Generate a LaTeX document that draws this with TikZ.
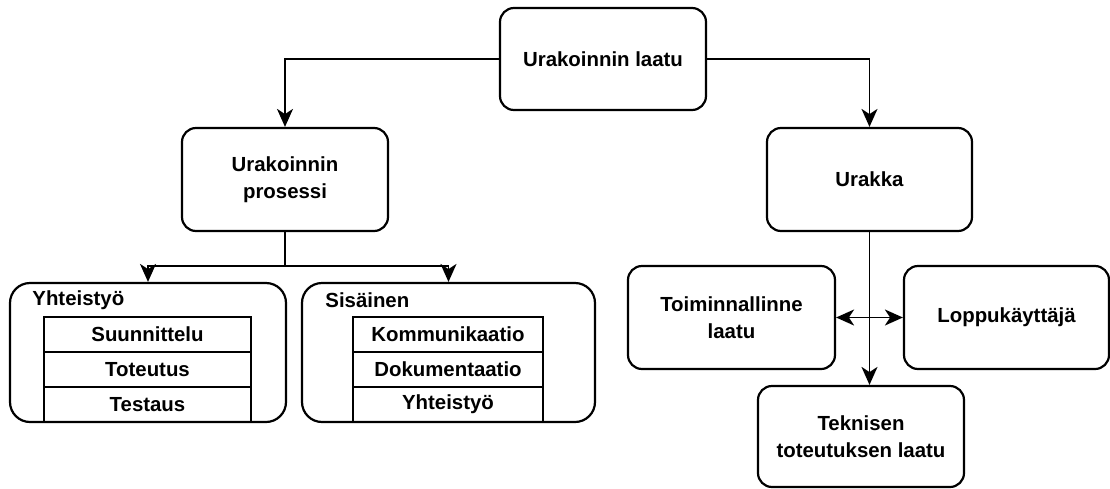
\documentclass[tikz,border=0pt]{standalone}
\usepackage{fontspec}
\setmainfont{Liberation Sans}
\usetikzlibrary{arrows.meta}
\begin{document}
\begin{tikzpicture}[x=0.5pt,y=-0.5pt,
  txt/.style={font=\bfseries\fontsize{10.2}{13.3}\selectfont},
  box/.style={txt,draw,line width=1.1pt,rounded corners=7pt,align=center,inner sep=0pt},
  cont/.style={draw,line width=1.1pt,rounded corners=10pt,inner sep=0pt},
  cell/.style={txt,draw,line width=0.9pt,inner sep=0pt,minimum height=17.5pt},
  arr/.style={line width=0.9pt,-{Stealth[length=9pt,width=8pt,inset=2.6pt]}},
  dbl/.style={line width=0.9pt,{Stealth[length=9pt,width=8pt,inset=2.6pt]}-{Stealth[length=9pt,width=8pt,inset=2.6pt]}},
  line/.style={line width=0.9pt}]
\useasboundingbox (0,0) rectangle (1110,488);
% main boxes
\node[box,minimum width=103pt,minimum height=51pt] (top) at (603,59) {Urakoinnin laatu};
\node[box,minimum width=103pt,minimum height=51.5pt] (pros) at (285,179.5) {Urakoinnin\\prosessi};
\node[box,minimum width=102.5pt,minimum height=51.5pt] (urakka) at (869.5,179.5) {Urakka};
% containers
\node[cont,minimum width=138pt,minimum height=69.5pt] (yht) at (148,352.5) {};
\node[cont,minimum width=146.5pt,minimum height=69.5pt] (sis) at (448.5,352.5) {};
\node[txt,anchor=west,inner sep=0pt] (yhtt) at (32,300) {Yhteistyö};
\node[txt,anchor=west,inner sep=0pt] (sist) at (325,300) {Sisäinen};
% table cells
\node[cell,minimum width=103.5pt] (c1) at (147.5,334.5) {Suunnittelu};
\node[cell,minimum width=103.5pt] (c2) at (147.5,369.5) {Toteutus};
\node[cell,minimum width=103.5pt] (c3) at (147.5,404.5) {Testaus};
\node[cell,minimum width=95pt] (d1) at (448,334.5) {Kommunikaatio};
\node[cell,minimum width=95pt] (d2) at (448,369.5) {Dokumentaatio};
\node[cell,minimum width=95pt] (d3) at (448,404.5) {Yhteistyö};
% right lower boxes
\node[box,minimum width=103.5pt,minimum height=51.5pt] (toim) at (731.5,317.5) {Toiminnallinne\\laatu};
\node[box,minimum width=102.5pt,minimum height=51.5pt] (lop) at (1006.5,317.5) {Loppukäyttäjä};
\node[box,minimum width=103pt,minimum height=50.5pt] (tek) at (861,436.5) {Teknisen\\toteutuksen laatu};
% connectors
\draw[arr] (top.west) -| (pros.north);
\draw[arr] (top.east) -| (urakka.north);
\path (pros.south) ++(0,-17pt) coordinate (j);
\draw[line] (pros.south) -- (j);
\draw[arr] (j) -| (yht.north);
\draw[arr] (j) -| (sis.north);
\draw[arr] (urakka.south) -- (urakka.south |- tek.north);
\draw[dbl] (toim.east) -- (lop.west);
\end{tikzpicture}
\end{document}
